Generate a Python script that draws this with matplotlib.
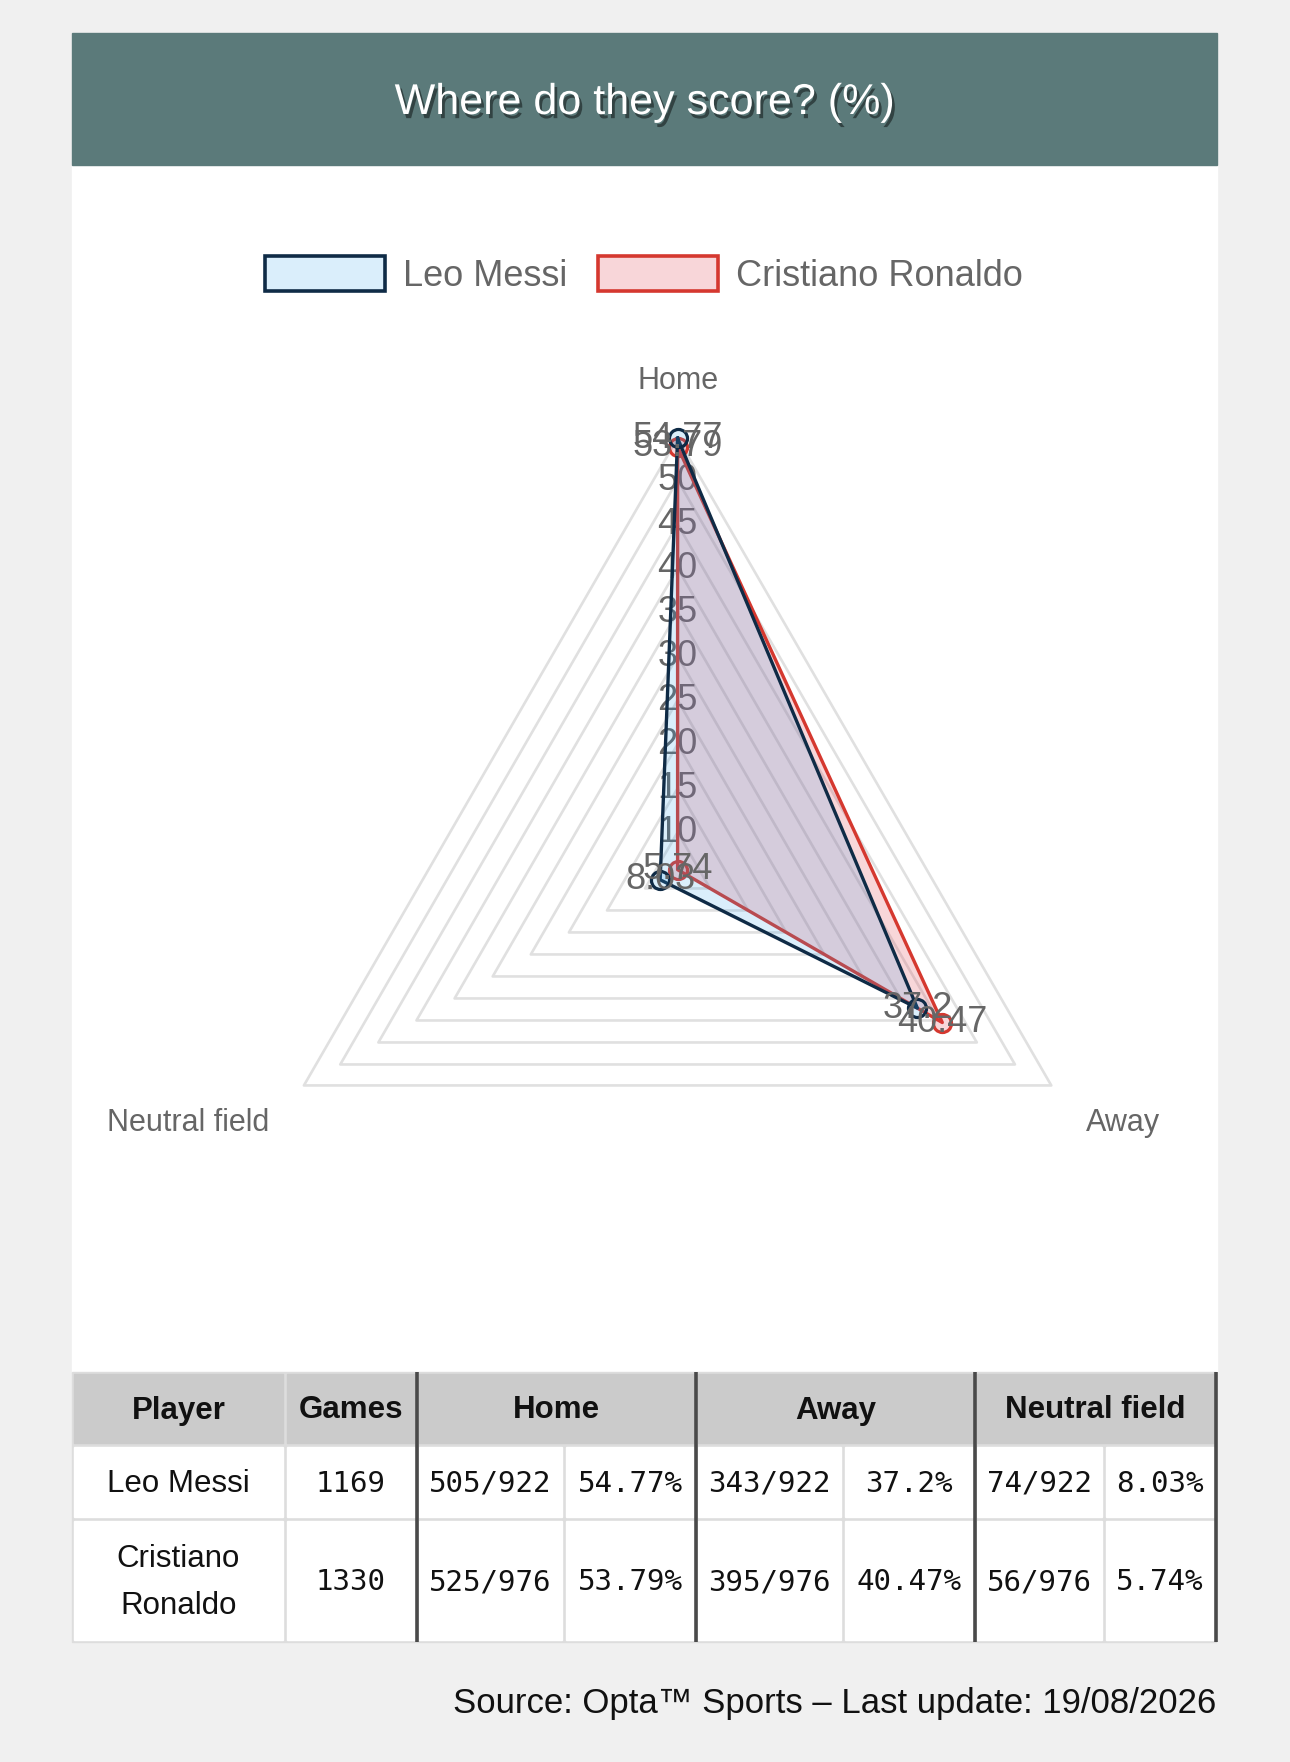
import numpy as np
import matplotlib
matplotlib.use('Agg')
import matplotlib.pyplot as plt
import matplotlib.patheffects as pe
from matplotlib.patches import Rectangle

plt.rcParams['font.family'] = ['Liberation Sans', 'DejaVu Sans']

# data
categories = ['Home', 'Away', 'Neutral field']
players = ['Leo Messi', 'Cristiano Ronaldo']
messi_pct = [54.77, 37.2, 8.03]
ronaldo_pct = [53.79, 40.47, 5.74]
games = [1169, 1330]
home_goals = [505, 525]
away_goals = [343, 395]
neutral_goals = [74, 56]
total_goals = [922, 976]
ring_ticks = [10, 15, 20, 25, 30, 35, 40, 45, 50]

messi_line = '#0f2b46'
messi_fill = (54/255, 162/255, 235/255, 0.18)
ronaldo_line = '#d5382f'
ronaldo_fill = (220/255, 53/255, 69/255, 0.2)
gray_txt = '#666666'

W, H = 1290, 1762
fig = plt.figure(figsize=(W / 100, H / 100), dpi=100)
fig.patch.set_facecolor('#f0f0f0')

# background canvas in pixel units
bg = fig.add_axes([0, 0, 1, 1])
bg.set_xlim(0, W)
bg.set_ylim(H, 0)
bg.axis('off')

bg.add_patch(Rectangle((72, 33), 1145, 1339, color='white', zorder=0))
bg.add_patch(Rectangle((72, 33), 1145, 132, color='#5b7a7a', zorder=1))
bg.text(644.5, 103, 'Where do they score? (%)', color='white', fontsize=31,
        ha='center', va='center', zorder=2,
        path_effects=[pe.SimplePatchShadow(offset=(2, -3), shadow_rgbFace='black', alpha=0.45),
                      pe.Normal()])

# legend
for x0, name, lc, fc in [(265, players[0], messi_line, messi_fill),
                         (598, players[1], ronaldo_line, ronaldo_fill)]:
    bg.add_patch(Rectangle((x0, 256), 120, 35, facecolor=fc, edgecolor=lc, lw=2.6, zorder=2))
    bg.text(x0 + 138, 276, name, color=gray_txt, fontsize=26, ha='left', va='center')

# radar
cx, cy, R = 677.6, 869.7, 431.5
ax = fig.add_axes([(cx - R) / W, (H - cy - R) / H, 2 * R / W, 2 * R / H], projection='polar')
ax.set_facecolor('none')
ax.set_theta_offset(np.pi / 2)
ax.set_theta_direction(-1)
rmin = min(messi_pct + ronaldo_pct)
rmax = max(messi_pct + ronaldo_pct)
ax.set_ylim(rmin, rmax)
ax.grid(False)
ax.set_xticks([])
ax.set_yticks([])
ax.spines['polar'].set_visible(False)

theta = np.linspace(0, 2 * np.pi, len(categories), endpoint=False)
theta_c = np.append(theta, theta[0])

for t in ring_ticks + [rmax]:
    ax.plot(theta_c, [t] * len(theta_c), color='#e0e0e0', lw=1.9, zorder=1, clip_on=False)
for t in ring_ticks:
    ax.text(0, t, str(t), color=gray_txt, fontsize=26, ha='center', va='center', zorder=2)

z = 3
for vals, lc, fc in [(ronaldo_pct, ronaldo_line, ronaldo_fill), (messi_pct, messi_line, messi_fill)]:
    v = np.append(vals, vals[0])
    ax.fill(theta_c, v, color=fc, zorder=z, clip_on=False)
    ax.plot(theta_c, v, color=lc, lw=2.4, zorder=z + 1, clip_on=False)
    ax.plot(theta, vals, 'o', ms=13, mfc=fc, mec=lc, mew=2.3, zorder=z + 2, clip_on=False)
    z += 3

for vals in [ronaldo_pct, messi_pct]:
    for th, v in zip(theta, vals):
        ax.text(th, v, f'{v:g}', color=gray_txt, fontsize=26, ha='center', va='center', zorder=20)

label_off = [((0, 41), 'center'), ((25, -27), 'left'), ((-25, -27), 'right')]
for th, cat, (off, ha) in zip(theta, categories, label_off):
    ax.annotate(cat, xy=(th, rmax), xytext=off, textcoords='offset points',
                ha=ha, va='center', color=gray_txt, fontsize=22, annotation_clip=False)

# table
col_x = [72, 285, 417, 564, 696, 843, 975, 1104, 1216]
row_y = [1372, 1445, 1519, 1642]
bg.add_patch(Rectangle((col_x[0], row_y[0]), col_x[-1] - col_x[0], row_y[-1] - row_y[0],
                       color='#dddddd', zorder=1))
g = 2


def cell(x0, x1, y0, y1, color):
    bg.add_patch(Rectangle((x0 + g, y0 + g), x1 - x0 - 2 * g, y1 - y0 - 2 * g, color=color, zorder=2))


header_spans = [(0, 1, 'Player'), (1, 2, 'Games'), (2, 4, 'Home'), (4, 6, 'Away'), (6, 8, 'Neutral field')]
for i0, i1, txt in header_spans:
    cell(col_x[i0], col_x[i1], row_y[0], row_y[1], '#cbcbcb')
    bg.text((col_x[i0] + col_x[i1]) / 2, (row_y[0] + row_y[1]) / 2 + 2, txt, fontsize=22.5,
            fontweight='bold', ha='center', va='center', color='#111111', zorder=3)

for r in range(2):
    y0, y1 = row_y[r + 1], row_y[r + 2]
    yc = (y0 + y1) / 2
    for c in range(8):
        cell(col_x[c], col_x[c + 1], y0, y1, 'white')
    name = players[r].replace(' ', '\n') if r == 1 else players[r]
    bg.text((col_x[0] + col_x[1]) / 2, yc + 2, name, fontsize=22.5, ha='center', va='center',
            color='#111111', linespacing=1.75, zorder=3)
    pct = [messi_pct, ronaldo_pct][r]
    cells = [str(games[r]),
             f'{home_goals[r]}/{total_goals[r]}', f'{pct[0]:g}%',
             f'{away_goals[r]}/{total_goals[r]}', f'{pct[1]:g}%',
             f'{neutral_goals[r]}/{total_goals[r]}', f'{pct[2]:g}%']
    for c, txt in enumerate(cells, start=1):
        bg.text((col_x[c] + col_x[c + 1]) / 2, yc + 2, txt, fontsize=21, family='DejaVu Sans Mono',
                ha='center', va='center', color='#111111', zorder=3)

for xv in [417, 696, 975, 1216]:
    bg.plot([xv, xv], [row_y[0], row_y[-1]], color='#4a4a4a', lw=2.6, zorder=4, solid_capstyle='butt')

bg.text(1216, 1703, 'Source: Opta™ Sports – Last update: 19/08/2026', fontsize=25,
        ha='right', va='center', color='#111111')

fig.savefig('out.png', dpi=100, facecolor=fig.get_facecolor())
